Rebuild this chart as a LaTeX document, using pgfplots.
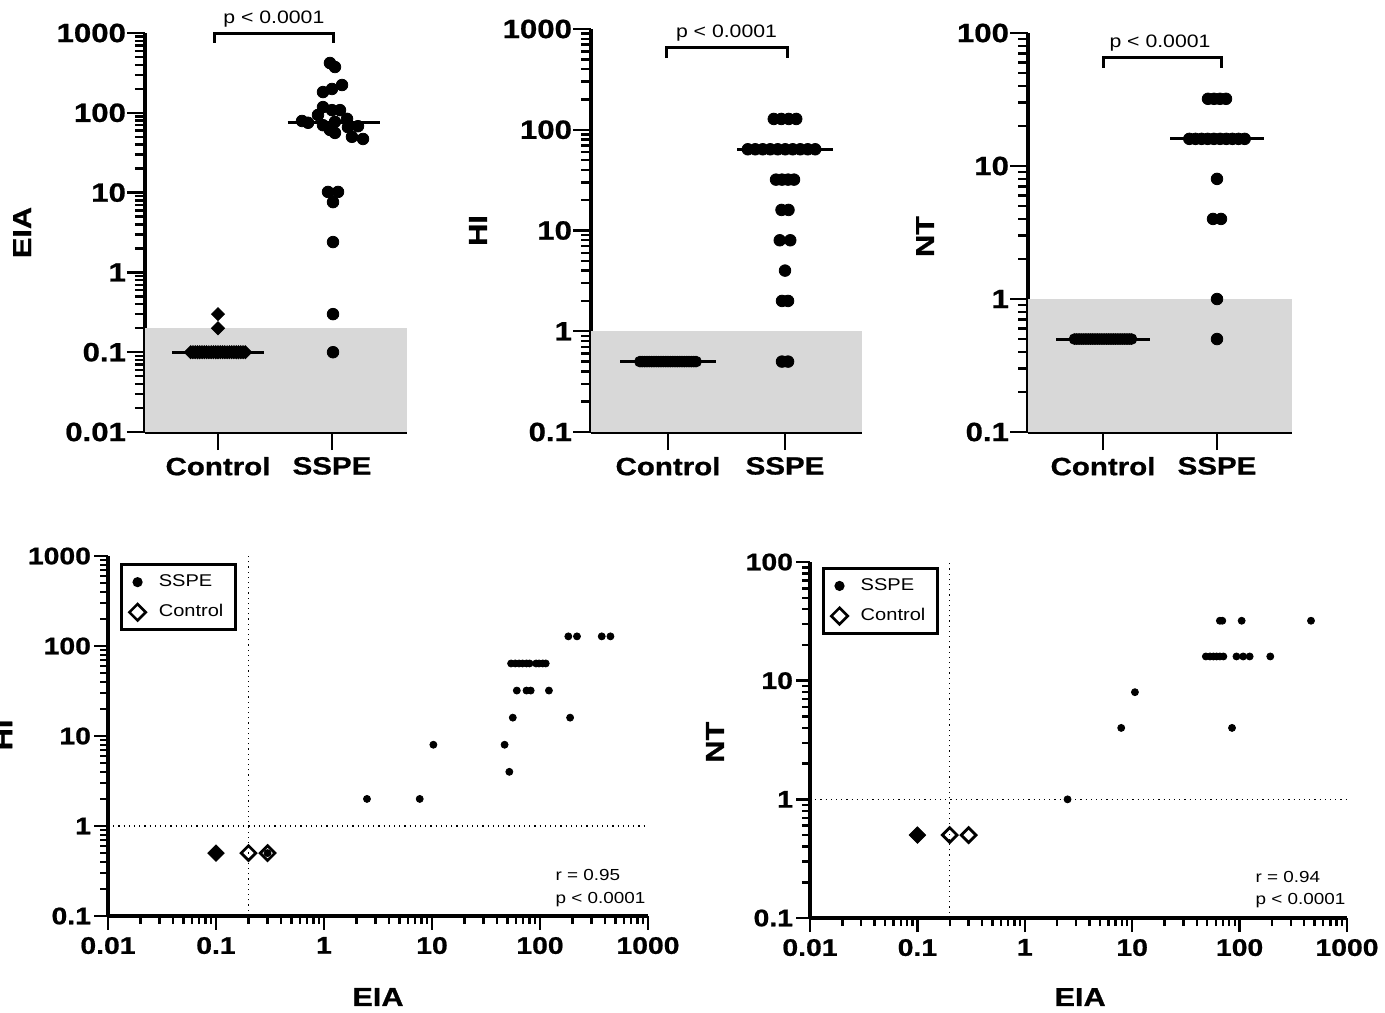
\documentclass[border=0pt]{standalone}
\usepackage{fontspec}
\setmainfont{Liberation Sans}[FakeStretch=1.18, BoldFeatures={FakeBold=0.8}]
\usepackage{pgfplots}
\pgfplotsset{compat=1.18}
\definecolor{shade}{RGB}{216,216,216}
\newcommand{\tlf}{\bfseries\fontsize{12.5}{14}\selectfont}
\newcommand{\tyf}{\bfseries\fontsize{13.2}{15}\selectfont}
\newcommand{\blf}{\bfseries\fontsize{12}{14}\selectfont}
\newcommand{\alf}{\bfseries\fontsize{13}{15}\selectfont}
\newcommand{\smf}{\fontsize{9}{11}\selectfont}
\newcommand{\bsf}{\fontsize{8}{10}\selectfont}
\newcommand{\lgf}{\fontsize{8.5}{10}\selectfont}
\begin{document}
\begin{tikzpicture}
% ---------------- EIA ----------------
\begin{axis}[scale only axis, anchor=south west, clip=false,
  at={(72.5pt,-216pt)}, width=131pt, height=199.5pt,
  axis x line*=bottom, axis y line*=left,
  axis line style={line width=2pt, black},
  tick align=outside, tick style={black, line width=1.2pt},
  major tick length=9pt, minor tick length=5pt,
  xticklabel style={font=\tlf}, yticklabel style={font=\tyf, xshift=3pt}, label style={font=\alf},
  ymode=log, xmin=0.3596, xmax=2.658, ymin=0.01, ymax=1000,
  xtick={1,2}, xticklabels={Control,SSPE},
  ytick={0.01,0.1,1,10,100,1000}, yticklabels={0.01,0.1,1,10,100,1000},
  minor ytick={0.02,0.03,0.04,0.05,0.06,0.07,0.08,0.09,0.2,0.3,0.4,0.5,0.6,0.7,0.8,0.9,2,3,4,5,6,7,8,9,20,30,40,50,60,70,80,90,200,300,400,500,600,700,800,900},
  ylabel={EIA}, ylabel style={at={(axis description cs:-0.469,0.5)}, anchor=center}]
\addplot[draw=none, fill=shade] coordinates {(0.3596,0.01) (2.658,0.01) (2.658,0.2) (0.3596,0.2)} -- cycle;
\addplot[only marks, mark=square*, mark size=2.3pt, mark options={rotate=45, fill=black, draw=black}] coordinates {(0.76,0.1)(0.78,0.1)(0.80,0.1)(0.82,0.1)(0.84,0.1)(0.86,0.1)(0.88,0.1)(0.90,0.1)(0.92,0.1)(0.94,0.1)(0.96,0.1)(0.98,0.1)(1.00,0.1)(1.02,0.1)(1.04,0.1)(1.06,0.1)(1.08,0.1)(1.10,0.1)(1.12,0.1)(1.14,0.1)(1.16,0.1)(1.18,0.1)(1.20,0.1)(1.22,0.1)(1.24,0.1)(1,0.2)(1,0.3)};
\addplot[line width=1.5pt, black, no marks] coordinates {(0.6,0.1) (1.4,0.1)};
\addplot[only marks, mark=*, mark size=2.9pt, mark options={fill=black, draw=black}] coordinates {(1.982,421)(2.026,375)(2.088,223)(2.0,199)(1.921,182)(1.921,118)(2.0,108)(2.07,108)(1.877,94)(2.132,84)(1.737,79)(2.026,77)(1.79,75)(1.921,70)(2.228,68)(2.14,66)(1.982,61)(2.026,56)(2.175,50)(2.272,47)(1.965,10.2)(2.053,10.2)(2.009,7.6)(2.009,2.4)(2.009,0.3)(2.009,0.1)};
\addplot[line width=1.5pt, black, no marks] coordinates {(1.61,75) (2.42,75)};
\draw[line width=1.5pt, black] (axis cs:0.97,750) -- (axis cs:0.97,1000) -- (axis cs:2.01,1000) -- (axis cs:2.01,750);
\node[anchor=base, font=\smf, yshift=5pt] at (axis cs:1.49,1000) {p < 0.0001};
\end{axis}
% ---------------- HI ----------------
\begin{axis}[scale only axis, anchor=south west, clip=false,
  at={(295.5pt,-216pt)}, width=135.5pt, height=201.5pt,
  axis x line*=bottom, axis y line*=left,
  axis line style={line width=2pt, black},
  tick align=outside, tick style={black, line width=1.2pt},
  major tick length=9pt, minor tick length=5pt,
  xticklabel style={font=\tlf}, yticklabel style={font=\tyf, xshift=3pt}, label style={font=\alf},
  ymode=log, xmin=0.342, xmax=2.658, ymin=0.1, ymax=1000,
  xtick={1,2}, xticklabels={Control,SSPE},
  ytick={0.01,0.1,1,10,100,1000}, yticklabels={0.01,0.1,1,10,100,1000},
  minor ytick={0.2,0.3,0.4,0.5,0.6,0.7,0.8,0.9,2,3,4,5,6,7,8,9,20,30,40,50,60,70,80,90,200,300,400,500,600,700,800,900},
  ylabel={HI}, ylabel style={at={(axis description cs:-0.417,0.5)}, anchor=center}]
\addplot[draw=none, fill=shade] coordinates {(0.342,0.1) (2.658,0.1) (2.658,1) (0.342,1)} -- cycle;
\addplot[only marks, mark=*, mark size=2.7pt, mark options={fill=black, draw=black}] coordinates {(0.76,0.5)(0.78,0.5)(0.80,0.5)(0.82,0.5)(0.84,0.5)(0.86,0.5)(0.88,0.5)(0.90,0.5)(0.92,0.5)(0.94,0.5)(0.96,0.5)(0.98,0.5)(1.00,0.5)(1.02,0.5)(1.04,0.5)(1.06,0.5)(1.08,0.5)(1.10,0.5)(1.12,0.5)(1.14,0.5)(1.16,0.5)(1.18,0.5)(1.20,0.5)(1.22,0.5)(1.24,0.5)};
\addplot[line width=1.5pt, black, no marks] coordinates {(0.59,0.5) (1.41,0.5)};
\addplot[only marks, mark=*, mark size=2.9pt, mark options={fill=black, draw=black}] coordinates {(1.904,128)(1.968,128)(2.032,128)(2.096,128)
 (1.682,64)(1.746,64)(1.81,64)(1.874,64)(1.938,64)(2.002,64)(2.066,64)(2.13,64)(2.194,64)(2.258,64)
 (1.923,32)(1.974,32)(2.026,32)(2.077,32)
 (1.97,16)(2.03,16)
 (1.955,8)(2.045,8)
 (2,4)
 (1.974,2)(2.026,2)
 (1.974,0.5)(2.026,0.5)};
\addplot[line width=1.5pt, black, no marks] coordinates {(1.59,64) (2.41,64)};
\draw[line width=1.5pt, black] (axis cs:0.99,515) -- (axis cs:0.99,650) -- (axis cs:2.017,650) -- (axis cs:2.017,515);
\node[anchor=base, font=\smf, yshift=5pt] at (axis cs:1.5,650) {p < 0.0001};
\end{axis}
% ---------------- NT ----------------
\begin{axis}[scale only axis, anchor=south west, clip=false,
  at={(514pt,-216pt)}, width=132pt, height=199.5pt,
  axis x line*=bottom, axis y line*=left,
  axis line style={line width=2pt, black},
  tick align=outside, tick style={black, line width=1.2pt},
  major tick length=9pt, minor tick length=5pt,
  xticklabel style={font=\tlf}, yticklabel style={font=\tyf, xshift=3pt}, label style={font=\alf},
  ymode=log, xmin=0.342, xmax=2.658, ymin=0.1, ymax=100,
  xtick={1,2}, xticklabels={Control,SSPE},
  ytick={0.1,1,10,100}, yticklabels={0.1,1,10,100},
  minor ytick={0.2,0.3,0.4,0.5,0.6,0.7,0.8,0.9,2,3,4,5,6,7,8,9,20,30,40,50,60,70,80,90},
  ylabel={NT}, ylabel style={at={(axis description cs:-0.39,0.49)}, anchor=center}]
\addplot[draw=none, fill=shade] coordinates {(0.342,0.1) (2.658,0.1) (2.658,1) (0.342,1)} -- cycle;
\addplot[only marks, mark=*, mark size=2.7pt, mark options={fill=black, draw=black}] coordinates {(0.75,0.5)(0.77,0.5)(0.79,0.5)(0.81,0.5)(0.83,0.5)(0.85,0.5)(0.87,0.5)(0.89,0.5)(0.91,0.5)(0.93,0.5)(0.95,0.5)(0.97,0.5)(0.99,0.5)(1.01,0.5)(1.03,0.5)(1.05,0.5)(1.07,0.5)(1.09,0.5)(1.11,0.5)(1.13,0.5)(1.15,0.5)(1.17,0.5)(1.19,0.5)(1.21,0.5)(1.23,0.5)(1.25,0.5)};
\addplot[line width=1.5pt, black, no marks] coordinates {(0.59,0.5) (1.41,0.5)};
\addplot[only marks, mark=*, mark size=2.9pt, mark options={fill=black, draw=black}] coordinates {(1.921,32)(1.974,32)(2.026,32)(2.079,32)
 (1.757,16)(1.811,16)(1.865,16)(1.919,16)(1.973,16)(2.027,16)(2.081,16)(2.135,16)(2.189,16)(2.243,16)
 (2,8)
 (1.965,4)(2.035,4)
 (2,1)
 (2,0.5)};
\addplot[line width=1.5pt, black, no marks] coordinates {(1.59,16) (2.41,16)};
\draw[line width=1.5pt, black] (axis cs:1.0,54.6) -- (axis cs:1.0,65) -- (axis cs:2.04,65) -- (axis cs:2.04,54.6);
\node[anchor=base, font=\smf, yshift=5pt] at (axis cs:1.5,65) {p < 0.0001};
\end{axis}
% ---------------- HI vs EIA ----------------
\begin{axis}[scale only axis, anchor=south west, clip=false,
  at={(54pt,-458pt)}, width=270pt, height=180pt,
  axis x line*=bottom, axis y line*=left,
  axis line style={line width=2pt, black},
  tick align=outside, tick style={black, line width=1.2pt},
  major tick length=7pt, minor tick length=4pt,
  xticklabel style={font=\blf}, yticklabel style={font=\blf, xshift=2pt}, label style={font=\alf},
  xmode=log, ymode=log, xmin=0.01, xmax=1000, ymin=0.1, ymax=1000,
  xtick={0.01,0.1,1,10,100,1000}, xticklabels={0.01,0.1,1,10,100,1000},
  minor xtick={0.02,0.03,0.04,0.05,0.06,0.07,0.08,0.09,0.2,0.3,0.4,0.5,0.6,0.7,0.8,0.9,2,3,4,5,6,7,8,9,20,30,40,50,60,70,80,90,200,300,400,500,600,700,800,900},
  ytick={0.1,1,10,100,1000}, yticklabels={0.1,1,10,100,1000},
  minor ytick={0.2,0.3,0.4,0.5,0.6,0.7,0.8,0.9,2,3,4,5,6,7,8,9,20,30,40,50,60,70,80,90,200,300,400,500,600,700,800,900},
  xlabel={EIA}, xlabel style={at={(axis description cs:0.5,-0.225)}, anchor=center},
  ylabel={HI}, ylabel style={at={(axis description cs:-0.194,0.503)}, anchor=center},
  legend style={at={(axis description cs:0.022,0.98)}, anchor=north west, draw=black, line width=1.5pt, fill=white, font=\lgf, row sep=3.5pt, column sep=4.5pt, inner xsep=4pt, inner ysep=3pt},
  legend cell align=left]
\addlegendimage{only marks, mark=*, mark size=1.75pt, mark options={fill=black, draw=black}}
\addlegendentry{SSPE}
\addlegendimage{only marks, mark=square, mark size=2.9pt, mark options={rotate=45, draw=black, fill=white, line width=1.3pt}}
\addlegendentry{Control}
\addplot[dotted, line width=0.6pt, forget plot] coordinates {(0.01,1) (1000,1)};
\addplot[dotted, line width=0.6pt, forget plot] coordinates {(0.2,0.1) (0.2,1000)};
\addplot[only marks, mark=square, mark size=2.6pt, mark options={rotate=45, draw=black, fill=white, line width=1.4pt}, forget plot] coordinates {(0.2,0.5)(0.3,0.5)};
\addplot[only marks, mark=square*, mark size=2.9pt, mark options={rotate=45, fill=black, draw=black}, forget plot] coordinates {(0.1,0.5)};
\addplot[only marks, mark=*, mark size=1.75pt, mark options={fill=black, draw=black}, forget plot] coordinates {(0.1,0.5)(0.3,0.5)(2.5,2)(7.7,2)(10.3,8)(47,8)(52,4)(56,16)(190,16)(61,32)(75,32)(82,32)(121,32)(54,64)(59,64)(64,64)(69,64)(75,64)(80,64)(92,64)(98,64)(106,64)(113,64)(183,128)(220,128)(373,128)(449,128)};
\node[anchor=base west, font=\bsf, inner sep=0pt] at (axis description cs:0.828,0.1) {r = 0.95};
\node[anchor=base west, font=\bsf, inner sep=0pt] at (axis description cs:0.828,0.036) {p < 0.0001};
\end{axis}
% ---------------- NT vs EIA ----------------
\begin{axis}[scale only axis, anchor=south west, clip=false,
  at={(405pt,-459pt)}, width=268.5pt, height=178pt,
  axis x line*=bottom, axis y line*=left,
  axis line style={line width=2pt, black},
  tick align=outside, tick style={black, line width=1.2pt},
  major tick length=7pt, minor tick length=4pt,
  xticklabel style={font=\blf}, yticklabel style={font=\blf, xshift=2pt}, label style={font=\alf},
  xmode=log, ymode=log, xmin=0.01, xmax=1000, ymin=0.1, ymax=100,
  xtick={0.01,0.1,1,10,100,1000}, xticklabels={0.01,0.1,1,10,100,1000},
  minor xtick={0.02,0.03,0.04,0.05,0.06,0.07,0.08,0.09,0.2,0.3,0.4,0.5,0.6,0.7,0.8,0.9,2,3,4,5,6,7,8,9,20,30,40,50,60,70,80,90,200,300,400,500,600,700,800,900},
  ytick={0.1,1,10,100}, yticklabels={0.1,1,10,100},
  minor ytick={0.2,0.3,0.4,0.5,0.6,0.7,0.8,0.9,2,3,4,5,6,7,8,9,20,30,40,50,60,70,80,90},
  xlabel={EIA}, xlabel style={at={(axis description cs:0.503,-0.222)}, anchor=center},
  ylabel={NT}, ylabel style={at={(axis description cs:-0.177,0.494)}, anchor=center},
  legend style={at={(axis description cs:0.022,0.986)}, anchor=north west, draw=black, line width=1.5pt, fill=white, font=\lgf, row sep=3.5pt, column sep=4.5pt, inner xsep=4pt, inner ysep=3pt},
  legend cell align=left]
\addlegendimage{only marks, mark=*, mark size=1.75pt, mark options={fill=black, draw=black}}
\addlegendentry{SSPE}
\addlegendimage{only marks, mark=square, mark size=2.9pt, mark options={rotate=45, draw=black, fill=white, line width=1.3pt}}
\addlegendentry{Control}
\addplot[dotted, line width=0.6pt, forget plot] coordinates {(0.01,1) (1000,1)};
\addplot[dotted, line width=0.6pt, forget plot] coordinates {(0.2,0.1) (0.2,100)};
\addplot[only marks, mark=square, mark size=2.6pt, mark options={rotate=45, draw=black, fill=white, line width=1.4pt}, forget plot] coordinates {(0.2,0.5)(0.3,0.5)};
\addplot[only marks, mark=square*, mark size=2.9pt, mark options={rotate=45, fill=black, draw=black}, forget plot] coordinates {(0.1,0.5)};
\addplot[only marks, mark=*, mark size=1.75pt, mark options={fill=black, draw=black}, forget plot] coordinates {(0.1,0.5)(2.5,1)(7.9,4)(10.6,8)(85,4)(48.5,16)(53,16)(57,16)(61,16)(65.5,16)(70.6,16)(93.5,16)(108,16)(124,16)(193,16)(65.5,32)(69,32)(104.5,32)(462,32)};
\node[anchor=base west, font=\bsf, inner sep=0pt] at (axis description cs:0.829,0.101) {r = 0.94};
\node[anchor=base west, font=\bsf, inner sep=0pt] at (axis description cs:0.829,0.037) {p < 0.0001};
\end{axis}
\pgfresetboundingbox
\useasboundingbox (0pt,0pt) rectangle (692.5pt,-506pt);
\end{tikzpicture}
\end{document}
